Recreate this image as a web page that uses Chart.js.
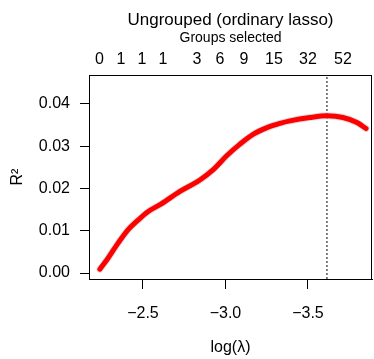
<!DOCTYPE html>
<html>
<head>
<meta charset="utf-8">
<script src="https://cdn.jsdelivr.net/npm/chart.js@4"></script>
<style>
  body { margin: 0; background: #fff; }
  #wrap { width: 374px; height: 359px; }
</style>
</head>
<body>
<div id="wrap"><canvas id="grafico"></canvas></div>
<script>
// log(lambda) values and R^2
const logLambda = [-2.239, -2.288, -2.348, -2.409, -2.470, -2.530, -2.609, -2.724, -2.845, -2.924,
  -3.009, -3.088, -3.167, -3.252, -3.330, -3.391, -3.512, -3.615, -3.712, -3.797, -3.852];
const r2 = [0.0009, 0.0035, 0.0070, 0.0102, 0.0125, 0.0145, 0.0163, 0.0193, 0.0220, 0.0244,
  0.0278, 0.0305, 0.0328, 0.0344, 0.0354, 0.0360, 0.0368, 0.0372, 0.0368, 0.0356, 0.0342];

// top axis: groups selected
const groupPos = [-2.236, -2.367, -2.494, -2.621, -2.827, -2.967, -3.112, -3.294, -3.500, -3.712];
const groupLabels = ['0', '1', '1', '1', '3', '6', '9', '15', '32', '52'];

const xTicks = [-2.5, -3.0, -3.5];
const yTicks = [0, 0.01, 0.02, 0.03, 0.04];
const bestLambda = -3.615;

const xMin = -3.888, xMax = -2.173;
const yMin = -0.00142, yMax = 0.04686;

const FONT = "'Liberation Sans', Arial, sans-serif";

const curve = logLambda.map((v, i) => ({ x: v, y: r2[i] }));

// box around plot + main title
const boxPlugin = {
  id: 'boxPlugin',
  afterDraw(chart) {
    const { ctx, chartArea: a } = chart;
    ctx.save();
    ctx.strokeStyle = '#000';
    ctx.lineWidth = 1;
    ctx.strokeRect(a.left + 0.5, a.top + 0.5, a.right - a.left - 1, a.bottom - a.top);
    ctx.fillStyle = '#000';
    ctx.font = '17px ' + FONT;
    ctx.textAlign = 'center';
    ctx.textBaseline = 'middle';
    ctx.fillText('Ungrouped (ordinary lasso)', (a.left + a.right) / 2, 20);
    ctx.restore();
  }
};

const ctx = document.getElementById('grafico').getContext('2d');

window.miGrafico = new Chart(ctx, {
  type: 'line',
  data: {
    datasets: [{
      data: curve,
      borderColor: '#ff0000',
      borderWidth: 5,
      borderCapStyle: 'round',
      cubicInterpolationMode: 'monotone',
      pointRadius: 0,
      fill: false
    }, {
      data: curve,
      borderColor: 'rgba(200,200,200,0.6)',
      borderWidth: 7,
      borderCapStyle: 'round',
      cubicInterpolationMode: 'monotone',
      pointRadius: 0,
      fill: false
    }, {
      data: [{ x: bestLambda, y: yMin }, { x: bestLambda, y: yMax }],
      borderColor: '#000',
      borderWidth: 1,
      borderDash: [2, 2],
      pointRadius: 0,
      fill: false
    }]
  },
  options: {
    responsive: true,
    maintainAspectRatio: false,
    animation: false,
    layout: { padding: { right: 2 } },
    plugins: {
      legend: { display: false },
      tooltip: { enabled: false }
    },
    scales: {
      x: {
        type: 'linear',
        position: 'bottom',
        reverse: true,
        min: xMin,
        max: xMax,
        afterBuildTicks: s => { s.ticks = xTicks.map(v => ({ value: v })); },
        afterFit: s => { s.height = 80; },
        grid: { drawOnChartArea: false, tickLength: 10, tickColor: '#000' },
        border: { color: '#000' },
        ticks: {
          color: '#000',
          font: { family: FONT, size: 16 },
          padding: 15,
          maxRotation: 0,
          autoSkip: false,
          callback: v => '\u2212' + Math.abs(v).toFixed(1)
        },
        title: {
          display: true,
          text: 'log(\u03bb)',
          color: '#000',
          font: { family: FONT, size: 16 },
          padding: { top: 0, bottom: 2 }
        }
      },
      x2: {
        type: 'linear',
        position: 'top',
        reverse: true,
        min: xMin,
        max: xMax,
        afterBuildTicks: s => { s.ticks = groupPos.map(v => ({ value: v })); },
        afterFit: s => { s.height = 75; },
        grid: { drawOnChartArea: false, drawTicks: false },
        border: { display: false },
        ticks: {
          color: '#000',
          font: { family: FONT, size: 16 },
          padding: 6,
          maxRotation: 0,
          autoSkip: false,
          callback: (v, i) => groupLabels[i]
        },
        title: {
          display: true,
          text: 'Groups selected',
          color: '#000',
          font: { family: FONT, size: 14 },
          padding: { top: 30, bottom: 0 }
        }
      },
      y: {
        type: 'linear',
        min: yMin,
        max: yMax,
        afterBuildTicks: s => { s.ticks = yTicks.map(v => ({ value: v })); },
        afterFit: s => { s.width = 89; },
        grid: { drawOnChartArea: false, tickLength: 9, tickColor: '#000' },
        border: { color: '#000' },
        ticks: {
          color: '#000',
          font: { family: FONT, size: 16 },
          padding: 10,
          callback: v => v.toFixed(2)
        },
        title: {
          display: true,
          text: 'R\u00b2',
          color: '#000',
          font: { family: FONT, size: 16 },
          padding: { top: 8, bottom: 0 }
        }
      }
    }
  },
  plugins: [boxPlugin]
});
</script>
</body>
</html>
